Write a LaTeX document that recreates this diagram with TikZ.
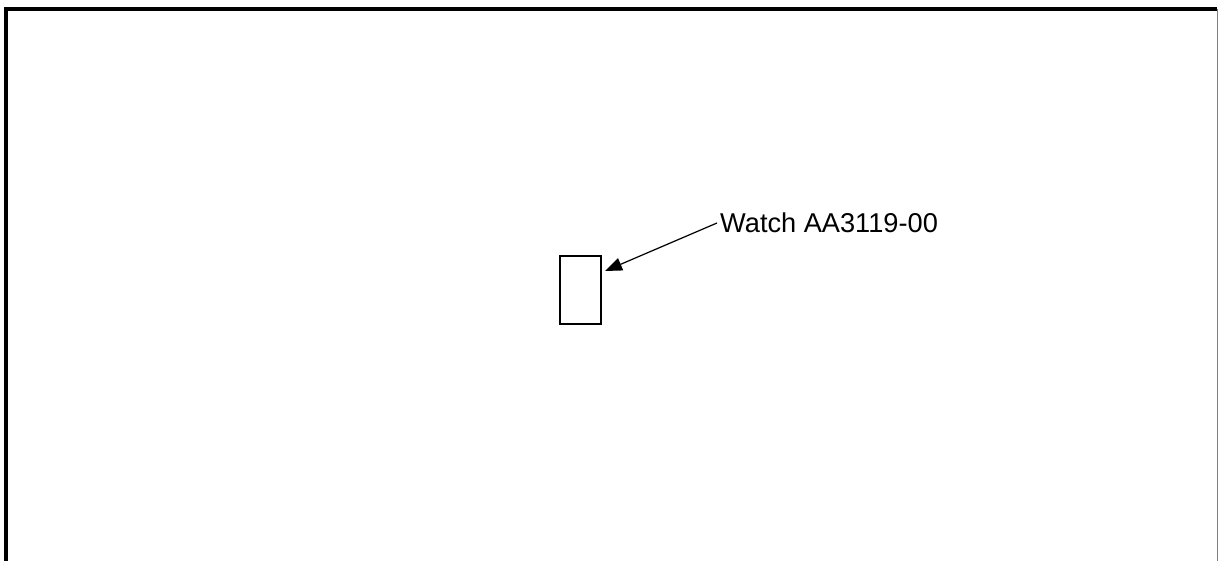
\documentclass[tikz,border=0pt]{standalone}
\usepackage{fontspec}
\setmainfont{Liberation Sans}
\usetikzlibrary{arrows.meta, positioning}

\begin{document}
\begin{tikzpicture}[x=1pt, y=-1pt, >={Triangle[length=17pt, width=13pt]}]
    % cadre
    \useasboundingbox (0,0) rectangle (1218,561);
    \draw[black, line width=4pt] (6,561) -- (6,9.5) -- (1217,9.5);
    \draw[gray, line width=1pt] (1217,9.5) -- (1217,561);

    % montre et libelle
    \node[draw, line width=1.2pt, minimum width=41pt, minimum height=68pt, inner sep=0pt] (watch) at (580.5,290) {};
    \node[anchor=west, inner sep=0pt, inner xsep=3pt, font=\fontsize{27.2}{30}\selectfont] (label) at (717,223) {Watch AA3119-00};
    \coordinate (tip) at (605,271);
    \draw[->, line width=1.2pt] (label.west) -- (tip);
\end{tikzpicture}
\end{document}
